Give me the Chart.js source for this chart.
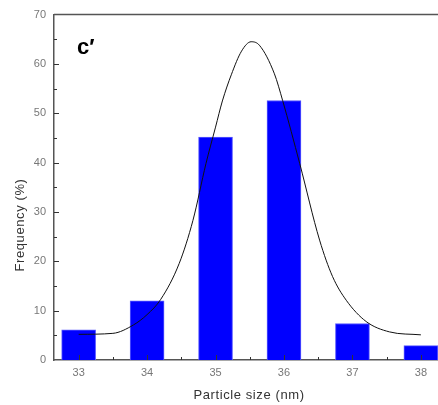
<!DOCTYPE html>
<html>
<head>
<meta charset="utf-8">
<script src="https://cdn.jsdelivr.net/npm/chart.js@4"></script>
<style>
  html, body { margin: 0; padding: 0; background: #fff; }
  #wrap { width: 438px; height: 405px; }
</style>
</head>
<body>
<div id="wrap"><canvas id="c"></canvas></div>
<script>
// histogram bars
const sizes = [33, 34, 35, 36, 37, 38];
const freq = [6.1, 12.0, 45.2, 52.6, 7.4, 2.9];

// fitted curve
const curveX = [33, 33.5, 33.8, 34.0, 34.2, 34.47, 34.67, 34.86, 35.0, 35.1, 35.23, 35.38, 35.52, 35.64, 35.86, 35.98, 36.23, 36.52, 36.71, 36.91, 37.2, 37.54, 38.0];
const curveY = [5.2, 5.4, 7.1, 9.2, 12.3, 19.6, 28.3, 39.8, 47.2, 52.5, 57.8, 62.6, 64.5, 63.8, 58.0, 52.6, 39.8, 24.3, 16.9, 12.1, 7.8, 5.7, 5.1];

const yTicks = [0, 10, 20, 30, 40, 50, 60, 70];

const axisColor = "#555";
const labelColor = "#777";
const fontFam = "'Liberation Sans', Arial, sans-serif";

// frame on top, inward tick marks, axis titles, panel letter
const framePlugin = {
  id: "frame",
  afterDraw(chart) {
    const { ctx, chartArea: a, scales } = chart;
    ctx.save();
    ctx.strokeStyle = axisColor;
    ctx.lineWidth = 1.5;
    ctx.beginPath();
    ctx.moveTo(a.left, a.top);
    ctx.lineTo(a.right, a.top);
    ctx.stroke();

    ctx.lineWidth = 1;
    ctx.strokeStyle = "#333";
    ctx.beginPath();
    for (let v = 33; v <= 38; v += 0.5) {
      const px = Math.round(scales.x.getPixelForValue(v)) + 0.5;
      const len = Number.isInteger(v) ? 5 : 3;
      ctx.moveTo(px, a.bottom);
      ctx.lineTo(px, a.bottom - len);
    }
    for (let v = 5; v <= 65; v += 5) {
      const py = Math.round(scales.y.getPixelForValue(v)) + 0.5;
      const len = v % 10 === 0 ? 5 : 3;
      ctx.moveTo(a.left, py);
      ctx.lineTo(a.left + len, py);
    }
    ctx.stroke();

    // axis titles
    ctx.fillStyle = "#333";
    ctx.font = "13px " + fontFam;
    ctx.letterSpacing = "0.6px";
    ctx.textAlign = "center";
    ctx.textBaseline = "middle";
    ctx.fillText("Particle size (nm)", 249, 395);
    ctx.save();
    ctx.translate(20, 225);
    ctx.rotate(-Math.PI / 2);
    ctx.fillText("Frequency (%)", 0, 0);
    ctx.restore();
    ctx.letterSpacing = "0px";

    ctx.fillStyle = "#000";
    ctx.font = "bold 22px " + fontFam;
    ctx.textAlign = "left";
    ctx.textBaseline = "alphabetic";
    ctx.fillText("c\u2032", 77, 54);
    ctx.restore();
  },
};

new Chart(document.getElementById("c"), {
  type: "bar",
  data: {
    datasets: [
      {
        type: "line",
        data: curveX.map((x, i) => ({ x: x, y: curveY[i] })),
        borderColor: "#111",
        borderWidth: 1,
        pointRadius: 0,
        cubicInterpolationMode: "monotone",
        order: 0,
      },
      {
        type: "bar",
        data: sizes.map((x, i) => ({ x: x, y: freq[i] })),
        backgroundColor: "#0000ff",
        borderColor: "#5a5aff",
        borderWidth: 1,
        barThickness: 34,
        order: 1,
      },
    ],
  },
  plugins: [framePlugin],
  options: {
    responsive: true,
    maintainAspectRatio: false,
    animation: false,
    layout: { padding: { top: 14, right: 0, left: 0, bottom: 0 } },
    plugins: {
      legend: { display: false },
      tooltip: { enabled: false },
    },
    scales: {
      x: {
        type: "linear",
        min: 32.64,
        max: 38.25,
        offset: false,
        afterFit: (s) => { s.height = 45; },
        afterBuildTicks: (s) => { s.ticks = sizes.map((v) => ({ value: v })); },
        grid: { display: false, drawTicks: false },
        border: { display: true, color: axisColor, width: 1.5 },
        ticks: {
          color: labelColor,
          font: { family: fontFam, size: 11 },
          padding: 6,
          maxRotation: 0,
        },
      },
      y: {
        min: 0,
        max: 70,
        afterFit: (s) => { s.width = 54; },
        afterBuildTicks: (s) => { s.ticks = yTicks.map((v) => ({ value: v })); },
        grid: { display: false, drawTicks: false },
        border: { display: true, color: axisColor, width: 1.5 },
        ticks: {
          color: labelColor,
          font: { family: fontFam, size: 11 },
          padding: 8,
        },
      },
    },
  },
});
</script>
</body>
</html>
